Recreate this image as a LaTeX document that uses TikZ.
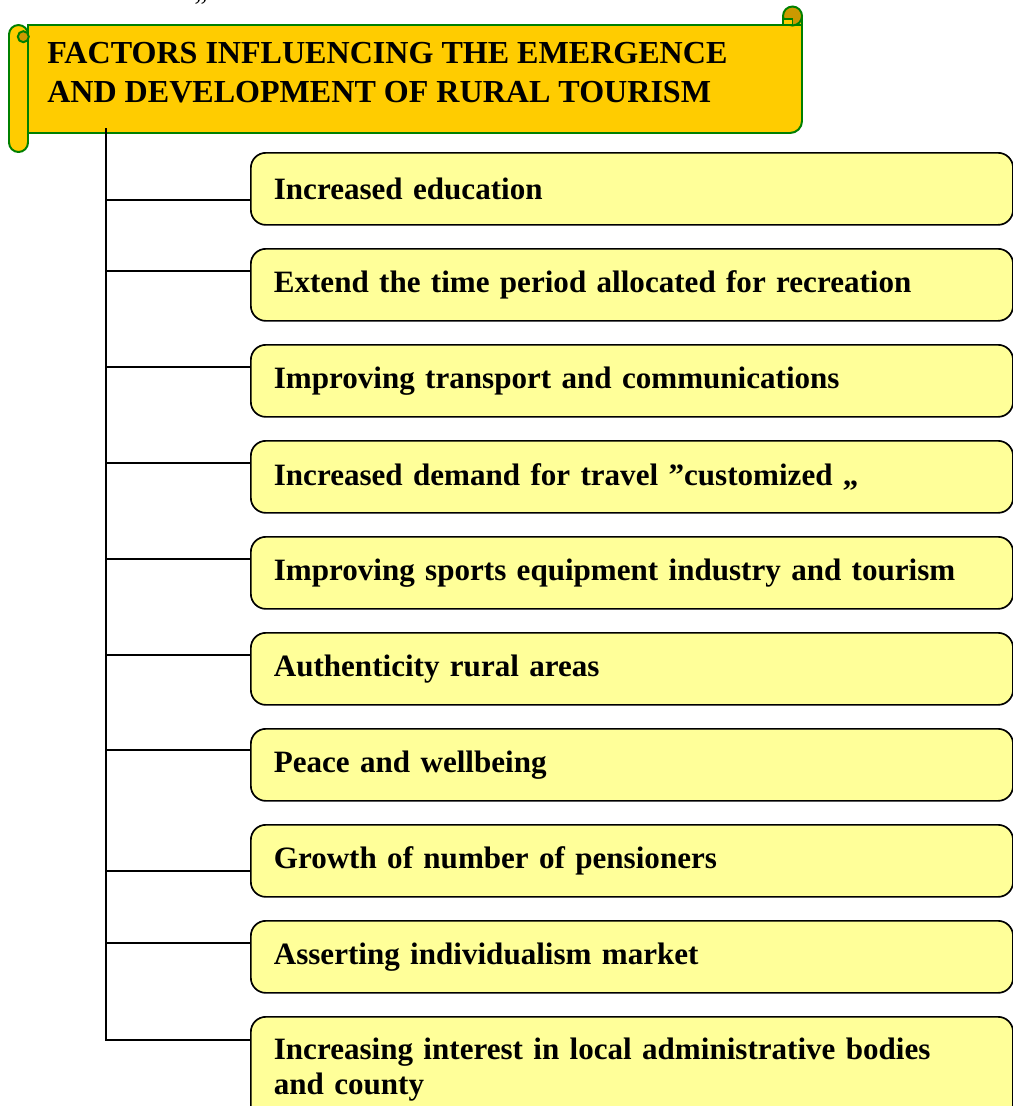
\documentclass[tikz,border=0pt]{standalone}
\usepackage{fontspec}
\setmainfont{Liberation Serif}
\usetikzlibrary{positioning}
\definecolor{scrollgold}{HTML}{FFCC00}
\definecolor{scrollcurl}{HTML}{CC9900}
\definecolor{scrollrim}{HTML}{008000}
\definecolor{factorfill}{HTML}{FFFF99}
\tikzset{
  factor/.style={draw, fill=factorfill, line width=1.2pt, rounded corners=0.375cm,
    minimum width=19.05cm, minimum height=1.8cm, text width=17.9cm, inner xsep=0.575cm,
    anchor=north west, align=left, font=\bfseries\fontsize{22.1}{24.9}\selectfont},
  branch/.style={line width=1.2pt},
  rim/.style={draw=scrollrim, line width=1.4pt}
}

\begin{document}
\begin{tikzpicture}[x=0.025cm, y=-0.025cm]
  \useasboundingbox (0,0) rectangle (1013,1106);

  % leftover quote mark at the top
  \node[anchor=south, inner sep=0pt, font=\fontsize{21}{24}\selectfont] (quote) at (201,17) {”};

  % the scroll banner
  \draw[rim, fill=scrollgold] (28,25) -- (802,25) -- (802,121)
    arc[start angle=0, end angle=90, radius=12] -- (28,133) -- cycle;
  \draw[rim, fill=scrollgold] (783,16) rectangle (802,25);
  \draw[rim, fill=scrollcurl] (792.5,16) circle (9.5);
  \draw[rim, fill=scrollgold] (783,19) rectangle (792.5,25);
  \draw[rim, fill=scrollgold, rounded corners=0.2375cm] (9,25) rectangle (28,152);
  \draw[rim, fill=scrollcurl] (23.3,36.7) circle (5.5);
  \node[anchor=west, align=left, inner sep=0pt,
    font=\bfseries\fontsize{22.8}{27.7}\selectfont] (title) at (47,72.5)
    {FACTORS INFLUENCING THE EMERGENCE\\AND DEVELOPMENT OF RURAL TOURISM};

  \coordinate (stem) at (106,128);

  % the factors, one box each
  \foreach \i/\dy/\txt in {
      1/1.2cm/Increased education,
      2/0.575cm/Extend the time period allocated for recreation,
      3/0.575cm/Improving transport and communications,
      4/0.575cm/Increased demand for travel ”customized „,
      5/0.575cm/Improving sports equipment industry and tourism,
      6/0.575cm/Authenticity rural areas,
      7/0.55cm/Peace and wellbeing,
      8/1.175cm/Growth of number of pensioners,
      9/0.575cm/Asserting individualism market} {
    \node[factor] (f\i) at (250,{152+96*(\i-1)}) {\txt};
    \draw[branch] (stem) |- ([yshift=-\dy]f\i.north west);
  }
  \node[factor, inner ysep=0.52cm] (f10) at (250,1016)
    {Increasing interest in local administrative bodies\\and county};
  \draw[branch] (stem) |- ([yshift=-0.6cm]f10.north west);
\end{tikzpicture}
\end{document}
